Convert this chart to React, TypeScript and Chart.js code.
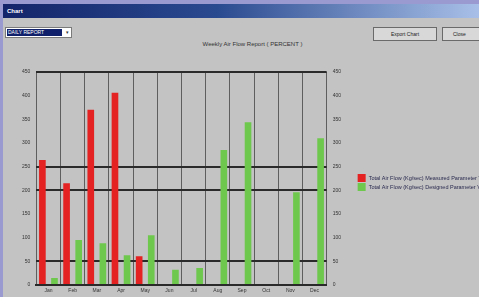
import React, { useEffect, useRef } from "react";
import { Chart, registerables } from "chart.js";

Chart.register(...registerables);

const categories = ["Jan", "Feb", "Mar", "Apr", "May", "Jun", "Jul", "Aug", "Sep", "Oct", "Nov", "Dec"];
const measuredValues = [264, 215, 370, 406, 61, 0, 0, 0, 0, 0, 0, 0];
const designValues = [15, 95, 88, 63, 105, 32, 36, 285, 344, 0, 196, 310];
const seriesLabels = [
  "Total Air Flow (Kg/sec) Measured Parameter Value",
  "Total Air Flow (Kg/sec) Designed Parameter Value",
];
const yMin = 0;
const yMax = 450;
const yStep = 50;
const markedLevels = [0, 50, 200, 250, 450];
const chartTitle = "Weekly Air Flow Report ( PERCENT )";

const FONT = "'Liberation Sans', Arial, sans-serif";

const legendPlugin = {
  id: "sideLegend",
  afterDraw(chart: any) {
    const { ctx, chartArea } = chart;
    const x0 = chartArea.right + 31;
    const yc = (chartArea.top + chartArea.bottom) / 2 + 4;
    const rowH = 9;
    const n = chart.data.datasets.length;
    ctx.save();
    ctx.font = `5.5px ${FONT}`;
    ctx.textBaseline = "middle";
    chart.data.datasets.forEach((ds: any, i: number) => {
      const y = yc - (n * rowH) / 2 + i * rowH + rowH / 2;
      ctx.fillStyle = ds.backgroundColor;
      ctx.fillRect(x0, y - 4, 8, 8);
      ctx.fillStyle = "#2a2a50";
      ctx.fillText(ds.label, x0 + 11, y);
    });
    ctx.restore();
  },
};

function ChartView() {
  const ref = useRef<HTMLCanvasElement | null>(null);
  useEffect(() => {
    if (!ref.current) return;
    const chart = new Chart(ref.current, {
      type: "bar",
      data: {
        labels: categories,
        datasets: [
          {
            label: seriesLabels[0],
            data: measuredValues,
            backgroundColor: "#e42222",
            categoryPercentage: 1,
            barPercentage: 0.55,
          },
          {
            label: seriesLabels[1],
            data: designValues,
            backgroundColor: "#6fc84e",
            categoryPercentage: 1,
            barPercentage: 0.55,
          },
        ],
      },
      options: {
        animation: false,
        responsive: false,
        maintainAspectRatio: false,
        layout: { padding: { left: 16, right: 132, top: 36, bottom: 0 } },
        plugins: {
          legend: { display: false },
          tooltip: { enabled: false },
          title: { display: false },
        },
        scales: {
          x: {
            grid: {
              color: "#5e5e5e",
              lineWidth: 1,
              offset: true,
              drawTicks: false,
            },
            border: { display: true, color: "#2a2a2a", width: 2 },
            ticks: {
              color: "#333",
              font: { family: FONT, size: 5 },
              padding: 3,
              maxRotation: 0,
              autoSkip: false,
            },
          },
          y: {
            min: yMin,
            max: yMax,
            position: "left",
            grid: {
              color: (c: any) => (markedLevels.includes(c.tick?.value) ? "#2a2a2a" : "rgba(0,0,0,0)"),
              lineWidth: 2,
              drawTicks: false,
            },
            border: { display: false },
            ticks: {
              stepSize: yStep,
              color: "#333",
              font: { family: FONT, size: 5 },
              padding: 6,
            },
          },
          y2: {
            min: yMin,
            max: yMax,
            position: "right",
            grid: { display: false, drawTicks: false },
            border: { display: false },
            ticks: {
              stepSize: yStep,
              color: "#333",
              font: { family: FONT, size: 5 },
              padding: 6,
            },
          },
        },
      },
      plugins: [legendPlugin],
    });
    return () => chart.destroy();
  }, []);
  return (
    <canvas
      ref={ref}
      width={479}
      height={261}
      style={{ position: "absolute", left: 0, top: 36, width: 479, height: 261 }}
    />
  );
}

export default function App() {
  useEffect(() => {
    document.body.style.margin = "0";
  }, []);
  return (
    <div
      style={{
        position: "fixed",
        left: 0,
        top: 0,
        width: 479,
        height: 297,
        background: "#c3c3c3",
        overflow: "hidden",
        fontFamily: FONT,
      }}
    >
      <div style={{ position: "absolute", left: 0, top: 0, width: 479, height: 4, background: "#9a9ad0" }} />
      <div style={{ position: "absolute", left: 0, top: 0, width: 3, height: 297, background: "#9a9ad0" }} />
      <div
        style={{
          position: "absolute",
          left: 3,
          top: 4,
          width: 476,
          height: 14,
          background: "linear-gradient(90deg, #14246a 0%, #2a4a90 45%, #a8c0e8 100%)",
          color: "#fff",
          fontSize: 6,
          fontWeight: "bold",
          lineHeight: "14px",
          paddingLeft: 4,
          boxSizing: "border-box",
        }}
      >
        Chart
      </div>
      <div
        style={{
          position: "absolute",
          left: 5,
          top: 27,
          width: 67,
          height: 11,
          background: "#fff",
          border: "1px solid #7a7a7a",
          boxSizing: "border-box",
        }}
      >
        <div
          style={{
            position: "absolute",
            left: 1,
            top: 1,
            width: 54,
            height: 7,
            background: "#10206a",
            color: "#fff",
            fontSize: 5,
            lineHeight: "7px",
            paddingLeft: 1,
          }}
        >
          DAILY REPORT
        </div>
        <div style={{ position: "absolute", right: 2, top: 0, fontSize: 5, lineHeight: "9px", color: "#333" }}>▾</div>
      </div>
      <div
        style={{
          position: "absolute",
          left: 373,
          top: 27,
          width: 64,
          height: 14,
          background: "#d8d8d8",
          border: "1px solid #6a6a6a",
          boxSizing: "border-box",
          fontSize: 5,
          lineHeight: "12px",
          textAlign: "center",
          color: "#222",
        }}
      >
        Export Chart
      </div>
      <div
        style={{
          position: "absolute",
          left: 442,
          top: 27,
          width: 60,
          height: 14,
          background: "#d8d8d8",
          border: "1px solid #6a6a6a",
          boxSizing: "border-box",
          fontSize: 5,
          lineHeight: "12px",
          paddingLeft: 10,
          color: "#222",
        }}
      >
        Close
      </div>
      <div
        style={{
          position: "absolute",
          left: 150,
          top: 40,
          width: 205,
          textAlign: "center",
          fontSize: 6,
          lineHeight: "8px",
          color: "#333",
        }}
      >
        {chartTitle}
      </div>
      <ChartView />
    </div>
  );
}
